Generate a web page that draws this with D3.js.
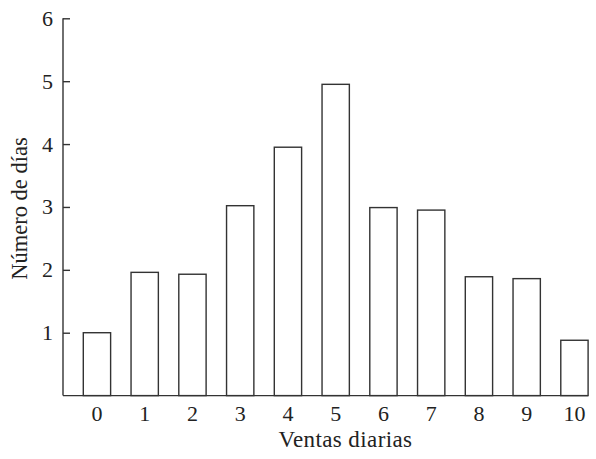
<!DOCTYPE html>
<html>
<head>
<meta charset="utf-8">
<script src="https://cdn.jsdelivr.net/npm/d3@7"></script>
<style>
  html, body { margin: 0; padding: 0; background: #fff; }
  svg { display: block; }
  text { font-family: "Liberation Serif", "Times New Roman", serif; fill: #222; }
</style>
</head>
<body>
<svg id="chart" width="596" height="459"></svg>
<script>
const categories = ["0","1","2","3","4","5","6","7","8","9","10"];
const values = [1.0, 1.96, 1.93, 3.02, 3.95, 4.95, 2.99, 2.95, 1.89, 1.86, 0.88];
const yTicks = [1, 2, 3, 4, 5, 6];
const xTitle = "Ventas diarias";
const yTitle = "Número de días";

const svg = d3.select("#chart");
const axisX0 = 63, plotTop = 18.3, base = 395.6;

const x = d3.scaleBand()
  .domain(categories)
  .range([83.3, 588.1])
  .paddingInner(0.428)
  .paddingOuter(0);

const y = d3.scaleLinear().domain([0, 6]).range([base, plotTop]);

const stroke = "#333";

// bars
svg.append("g").selectAll("rect")
  .data(values)
  .join("rect")
  .attr("x", (d, i) => x(categories[i]))
  .attr("y", d => y(d))
  .attr("width", x.bandwidth())
  .attr("height", d => y(0) - y(d))
  .attr("fill", "#fff")
  .attr("stroke", stroke)
  .attr("stroke-width", 1.4);

// y axis
const yAxis = d3.axisRight(y).tickValues(yTicks).tickSize(7).tickFormat("");
const gy = svg.append("g").attr("transform", `translate(${axisX0},0)`).call(yAxis);
gy.select(".domain").remove();
gy.selectAll(".tick line").attr("stroke", stroke).attr("stroke-width", 1.4);
svg.append("line")
  .attr("x1", axisX0).attr("x2", axisX0)
  .attr("y1", y(6)).attr("y2", y(0))
  .attr("stroke", stroke).attr("stroke-width", 1.4);

// y tick labels
svg.append("g").selectAll("text")
  .data(yTicks)
  .join("text")
  .attr("x", 53)
  .attr("y", d => y(d))
  .attr("dy", "0.34em")
  .attr("text-anchor", "end")
  .attr("font-size", 22)
  .text(d => d);

// x axis line
svg.append("line")
  .attr("x1", axisX0).attr("x2", x(categories[categories.length - 1]) + x.bandwidth())
  .attr("y1", y(0)).attr("y2", y(0))
  .attr("stroke", stroke).attr("stroke-width", 1.4);

// x tick labels
const xAxis = d3.axisBottom(x).tickSize(0).tickPadding(0);
const gx = svg.append("g").attr("transform", `translate(0,${y(0)})`).call(xAxis);
gx.select(".domain").remove();
gx.selectAll(".tick text")
  .attr("y", 25.5)
  .attr("dy", 0)
  .attr("font-size", 22)
  .attr("font-family", "Liberation Serif, serif")
  .attr("fill", "#222");

// titles
svg.append("text")
  .attr("x", 345.5)
  .attr("y", 446.5)
  .attr("text-anchor", "middle")
  .attr("font-size", 23)
  .attr("letter-spacing", 0.4)
  .text(xTitle);

svg.append("text")
  .attr("transform", "translate(27,208.5) rotate(-90)")
  .attr("text-anchor", "middle")
  .attr("font-size", 22.5)
  .text(yTitle);
</script>
</body>
</html>
